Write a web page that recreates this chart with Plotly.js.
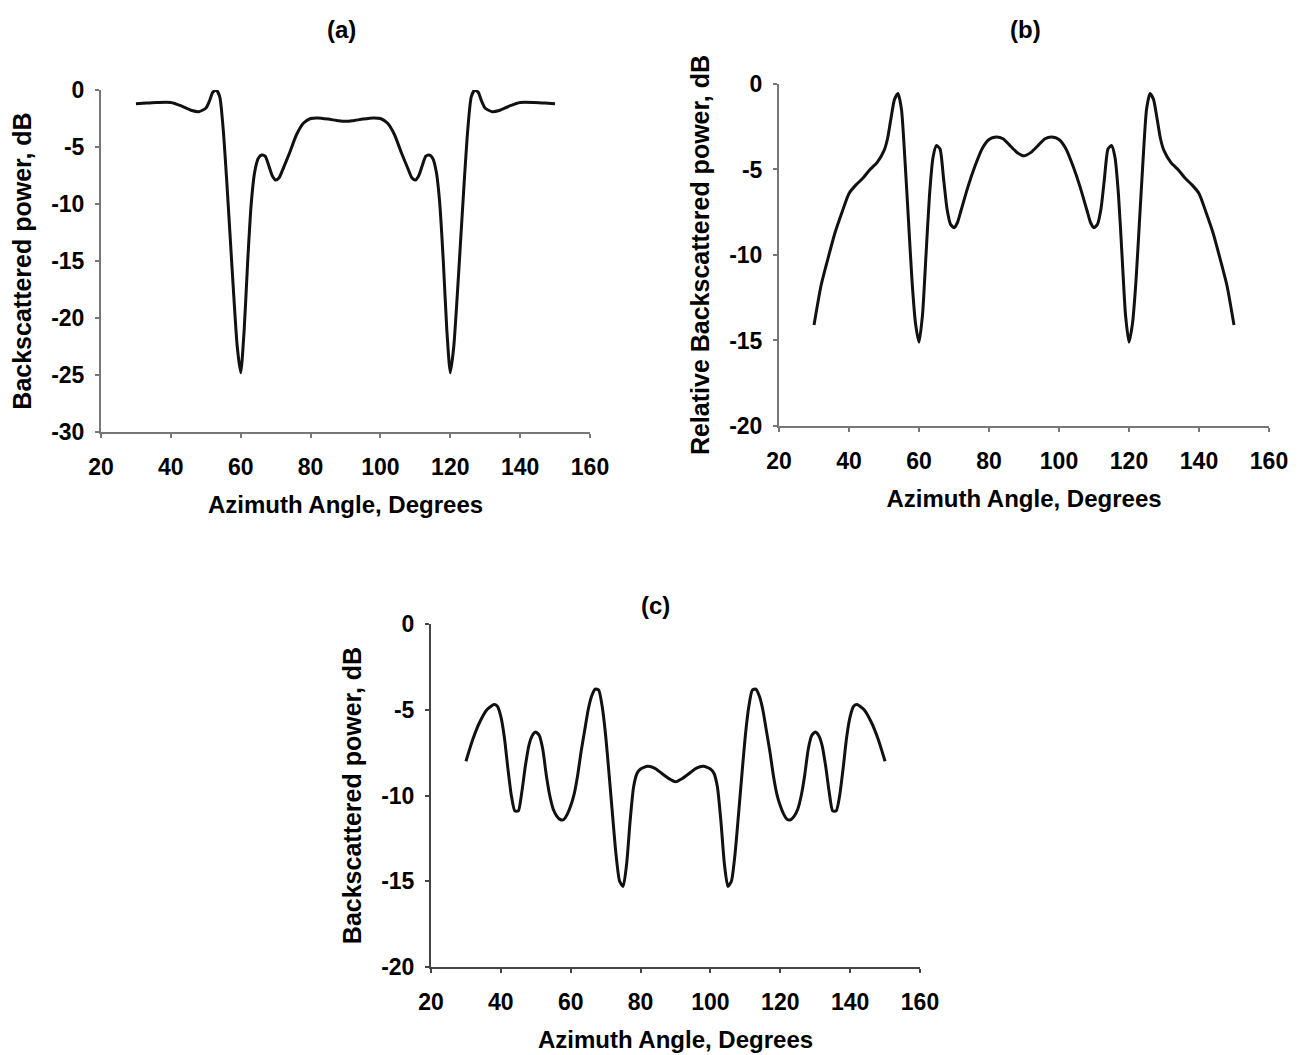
<!DOCTYPE html>
<html>
<head>
<meta charset="utf-8">
<script src="https://cdn.plot.ly/plotly-3.0.1.min.js"></script>
<style>html,body{margin:0;padding:0;background:#fff;}#chart{width:1306px;height:1055px;}</style>
</head>
<body>
<div id="chart"></div>
<script>
// ---- Panel (a) ----
var angleA = [30,33,36,40,43,46,48,50,51,52,53,54,55,56,57,58,59,60,61,62,63,64,65,66,67,68,69,70,71,72,74,76,78,80,82,85,88,90,92,95,98,100,102,104,106,108,109,110,111,112,113,114,115,116,117,118,119,120,121,122,123,124,125,126,127,128,129,130,132,134,137,140,144,147,150];
var powerA = [-1.2,-1.15,-1.1,-1.1,-1.4,-1.8,-1.9,-1.6,-1.0,-0.2,0.0,-0.6,-3.5,-8.0,-13.0,-18.0,-22.5,-24.8,-21.0,-15.0,-10.0,-7.2,-6.0,-5.7,-5.8,-6.6,-7.5,-7.9,-7.7,-7.0,-5.5,-3.9,-2.9,-2.5,-2.45,-2.55,-2.7,-2.75,-2.7,-2.55,-2.45,-2.5,-2.9,-3.9,-5.5,-7.0,-7.7,-7.9,-7.5,-6.6,-5.8,-5.7,-6.0,-7.2,-10.0,-15.0,-21.0,-24.8,-22.5,-18.0,-13.0,-8.0,-3.5,-0.6,0.0,-0.2,-1.0,-1.6,-1.9,-1.8,-1.4,-1.1,-1.1,-1.15,-1.2];

// ---- Panel (b) ----
var angleB = [30,32,34,36,38,40,42,44,46,48,50,51,52,53,54,55,56,57,58,59,60,61,62,63,64,65,66,67,68,69,70,71,72,74,76,78,80,82,84,86,88,90,92,94,96,98,100,102,104,106,108,109,110,111,112,113,114,115,116,117,118,119,120,121,122,123,124,125,126,127,128,129,130,132,134,136,138,140,142,144,146,148,150];
var powerB = [-14.1,-11.8,-10.2,-8.7,-7.5,-6.4,-5.9,-5.5,-5.0,-4.6,-3.9,-3.2,-2.0,-0.9,-0.55,-1.5,-4.5,-8.0,-11.5,-14.0,-15.1,-13.5,-10.0,-6.5,-4.3,-3.6,-3.8,-5.5,-7.3,-8.2,-8.4,-8.1,-7.4,-6.0,-4.8,-3.8,-3.25,-3.1,-3.2,-3.6,-4.0,-4.2,-4.0,-3.6,-3.2,-3.1,-3.25,-3.8,-4.8,-6.0,-7.4,-8.1,-8.4,-8.2,-7.3,-5.5,-3.8,-3.6,-4.3,-6.5,-10.0,-13.5,-15.1,-14.0,-11.5,-8.0,-4.5,-1.5,-0.55,-0.9,-2.0,-3.2,-3.9,-4.6,-5.0,-5.5,-5.9,-6.4,-7.5,-8.7,-10.2,-11.8,-14.1];

// ---- Panel (c) ----
var angleC = [30,32,34,36,38,39,40,41,42,43,44,45,46,47,48,49,50,51,52,53,54,55,56,57,58,59,60,61,62,63,64,65,66,67,68,69,70,71,72,73,74,75,76,77,78,79,80,82,84,86,88,90,92,94,96,98,100,101,102,103,104,105,106,107,108,109,110,111,112,113,114,115,116,117,118,119,120,121,122,123,124,125,126,127,128,129,130,131,132,133,134,135,136,137,138,139,140,141,142,144,146,148,150];
var powerC = [-8.0,-6.7,-5.7,-5.0,-4.7,-4.8,-5.4,-6.6,-8.4,-10.0,-10.9,-10.9,-9.8,-8.3,-7.1,-6.5,-6.3,-6.5,-7.3,-8.8,-10.0,-10.8,-11.2,-11.4,-11.4,-11.1,-10.6,-9.9,-8.8,-7.4,-6.2,-5.0,-4.2,-3.8,-3.85,-4.8,-6.5,-8.8,-11.2,-13.5,-15.0,-15.3,-14.0,-11.5,-9.5,-8.7,-8.45,-8.3,-8.4,-8.7,-9.0,-9.2,-9.0,-8.7,-8.4,-8.3,-8.45,-8.7,-9.5,-11.5,-14.0,-15.3,-15.0,-13.5,-11.2,-8.8,-6.5,-4.8,-3.85,-3.8,-4.2,-5.0,-6.2,-7.4,-8.8,-9.9,-10.6,-11.1,-11.4,-11.4,-11.2,-10.8,-10.0,-8.8,-7.3,-6.5,-6.3,-6.5,-7.1,-8.3,-9.8,-10.9,-10.9,-10.0,-8.4,-6.6,-5.4,-4.8,-4.7,-5.0,-5.7,-6.7,-8.0];

var xTickVals = [20,40,60,80,100,120,140,160];
var xTickText = ["20","40","60","80","100","120","140","160"];
var yTickValsA = [-30,-25,-20,-15,-10,-5,0];
var yTickTextA = ["-30","-25","-20","-15","-10","-5","0"];
var yTickValsBC = [-20,-15,-10,-5,0];
var yTickTextBC = ["-20","-15","-10","-5","0"];
var xTitle = "Azimuth Angle, Degrees";
var yTitleA = "Backscattered power, dB";
var yTitleB = "Relative Backscattered power, dB";
var yTitleC = "Backscattered power, dB";
var panelLabels = ["(a)", "(b)", "(c)"];

var FAM = "Liberation Sans, Arial, sans-serif";
var TICKFONT = {family: FAM, size: 23, color: "#000", weight: "bold"};
var XTFONT = {family: FAM, size: 24, color: "#000", weight: "bold"};
var YTFONT = {family: FAM, size: 25, color: "#000", weight: "bold"};
var PFONT = {family: FAM, size: 24, color: "#000", weight: "bold"};

var lineStyle = {color: "#111", width: 3, shape: "spline", smoothing: 0.6};

var traces = [
  {x: angleA, y: powerA, xaxis: "x", yaxis: "y", mode: "lines", line: lineStyle, showlegend: false},
  {x: angleB, y: powerB, xaxis: "x2", yaxis: "y2", mode: "lines", line: lineStyle, showlegend: false},
  {x: angleC, y: powerC, xaxis: "x3", yaxis: "y3", mode: "lines", line: lineStyle, showlegend: false}
];

function xAxis(domain, anchor, lc) {
  return {
    domain: domain, anchor: anchor, range: [20, 160],
    tickmode: "array", tickvals: xTickVals, ticktext: xTickText,
    showgrid: false, zeroline: false, showline: true, linecolor: lc, linewidth: 2,
    ticks: "outside", ticklen: 4, tickwidth: 2, tickcolor: lc,
    tickfont: TICKFONT, ticklabelstandoff: 9,
    title: {text: xTitle, font: XTFONT, standoff: 18},
    automargin: false, fixedrange: true
  };
}
function yAxis(domain, anchor, range, vals, texts, title, lc) {
  return {
    domain: domain, anchor: anchor, range: range,
    tickmode: "array", tickvals: vals, ticktext: texts,
    showgrid: false, zeroline: false, showline: true, linecolor: lc, linewidth: 2,
    ticks: "outside", ticklen: 4, tickwidth: 2, tickcolor: lc,
    tickfont: TICKFONT, ticklabelstandoff: 6,
    title: {text: title, font: YTFONT, standoff: 12},
    automargin: false, fixedrange: true
  };
}

var layout = {
  width: 1306, height: 1055,
  margin: {l: 0, r: 0, t: 0, b: 0},
  paper_bgcolor: "#fff", plot_bgcolor: "#fff",
  showlegend: false,
  xaxis: xAxis([0.07734, 0.45176], "y", "#777"),
  yaxis: yAxis([0.59052, 0.91469], "x", [-30, 0], yTickValsA, yTickTextA, yTitleA, "#777"),
  xaxis2: xAxis([0.59648, 0.97167], "y2", "#777"),
  yaxis2: yAxis([0.59621, 0.92038], "x2", [-20, 0], yTickValsBC, yTickTextBC, yTitleB, "#777"),
  xaxis3: xAxis([0.33002, 0.70444], "y3", "#444"),
  yaxis3: yAxis([0.08341, 0.40853], "x3", [-20, 0], yTickValsBC, yTickTextBC, yTitleC, "#444"),
  annotations: [
    {text: panelLabels[0], xref: "paper", yref: "paper", x: 341/1306, y: 1 - 30/1055, showarrow: false, font: PFONT, xanchor: "center", yanchor: "middle"},
    {text: panelLabels[1], xref: "paper", yref: "paper", x: 1025/1306, y: 1 - 30/1055, showarrow: false, font: PFONT, xanchor: "center", yanchor: "middle"},
    {text: panelLabels[2], xref: "paper", yref: "paper", x: 655/1306, y: 1 - 605/1055, showarrow: false, font: PFONT, xanchor: "center", yanchor: "middle"}
  ]
};

Plotly.newPlot("chart", traces, layout, {displayModeBar: false, staticPlot: true});
</script>
</body>
</html>
